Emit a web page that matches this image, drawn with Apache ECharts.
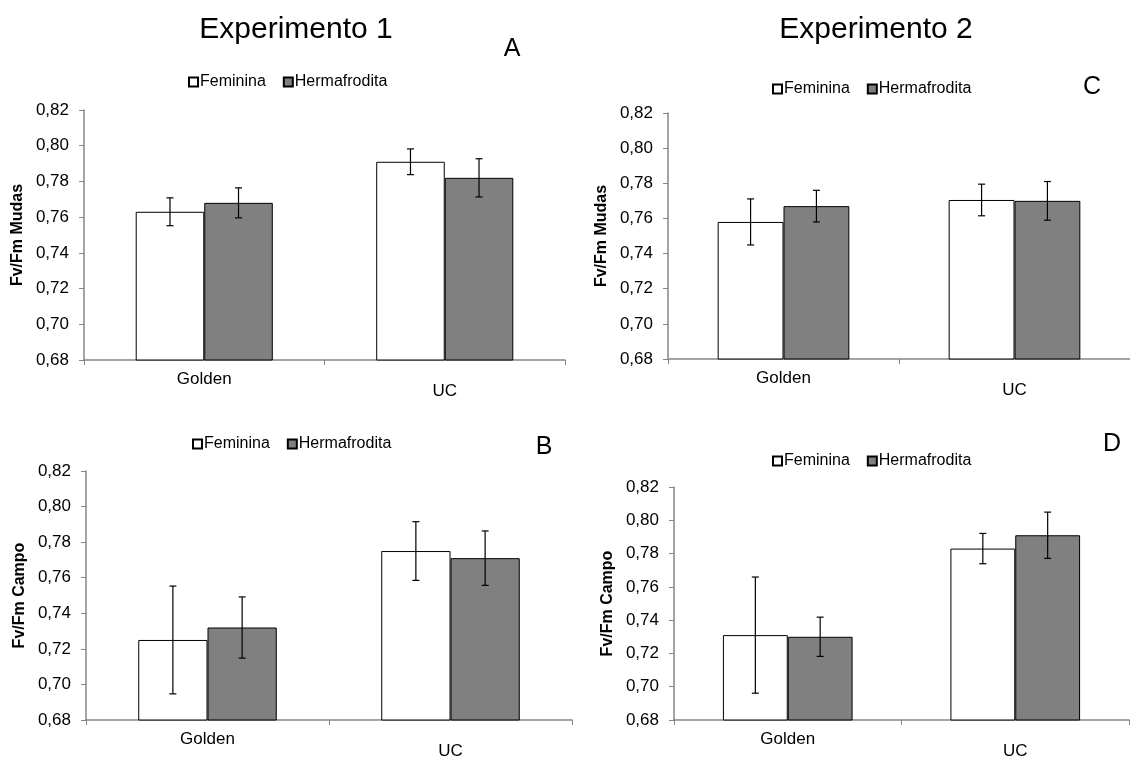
<!DOCTYPE html>
<html>
<head>
<meta charset="utf-8">
<script src="https://cdn.jsdelivr.net/npm/echarts@6/dist/echarts.min.js"></script>
<style>
html, body { margin: 0; padding: 0; background: #fff; }
#main { width: 1130px; height: 760px; }
</style>
</head>
<body>
<div id="main"></div>
<script>
var categories = ['Golden', 'UC'];
var seriesNames = ['Feminina', 'Hermafrodita'];
var yMin = 0.68, yMax = 0.82, yStep = 0.02;

// A - Experimento 1, Fv/Fm Mudas
var mudas1Fem = [0.763, 0.791];
var mudas1FemErr = [0.0078, 0.0072];
var mudas1Herm = [0.768, 0.782];
var mudas1HermErr = [0.0084, 0.0107];

// B - Experimento 1, Fv/Fm Campo
var campo1Fem = [0.725, 0.775];
var campo1FemErr = [0.0303, 0.0165];
var campo1Herm = [0.732, 0.771];
var campo1HermErr = [0.0172, 0.0153];

// C - Experimento 2, Fv/Fm Mudas
var mudas2Fem = [0.758, 0.7705];
var mudas2FemErr = [0.0131, 0.009];
var mudas2Herm = [0.767, 0.770];
var mudas2HermErr = [0.009, 0.011];

// D - Experimento 2, Fv/Fm Campo
var campo2Fem = [0.731, 0.783];
var campo2FemErr = [0.0349, 0.0091];
var campo2Herm = [0.730, 0.791];
var campo2HermErr = [0.0118, 0.0139];

var FONT = '"Liberation Sans", Arial, sans-serif';
var GAP = 0.43;

var panels = [
	{ letter: 'A', yName: 'Fv/Fm Mudas', fem: mudas1Fem, femErr: mudas1FemErr, herm: mudas1Herm, hermErr: mudas1HermErr,
	  grid: { left: 84, top: 110, width: 481, height: 250 }, legend: { left: 183, top: 69 }, letterPos: [512, 49] },
	{ letter: 'B', yName: 'Fv/Fm Campo', fem: campo1Fem, femErr: campo1FemErr, herm: campo1Herm, hermErr: campo1HermErr,
	  grid: { left: 86, top: 471, width: 486, height: 252 }, legend: { left: 187, top: 431 }, letterPos: [544, 447] },
	{ letter: 'C', yName: 'Fv/Fm Mudas', fem: mudas2Fem, femErr: mudas2FemErr, herm: mudas2Herm, hermErr: mudas2HermErr,
	  grid: { left: 668, top: 113, width: 468, height: 246 }, legend: { left: 767, top: 76 }, letterPos: [1092, 87] },
	{ letter: 'D', yName: 'Fv/Fm Campo', fem: campo2Fem, femErr: campo2FemErr, herm: campo2Herm, hermErr: campo2HermErr,
	  grid: { left: 674, top: 487, width: 455, height: 238 }, legend: { left: 767, top: 448 }, letterPos: [1112, 444] }
];

function errorBarRenderer(slot) {
	return function(params, api) {
		var cat = api.value(0);
		var val = api.value(1);
		var err = api.value(2);
		var catWidth = api.size([1, 0])[0];
		var barWidth = catWidth * (1 - GAP) / 2;
		var dx = (slot - 0.5) * barWidth;
		var hi = api.coord([cat, val + err]);
		var lo = api.coord([cat, val - err]);
		var x = hi[0] + dx;
		var cap = 3.5;
		var style = { stroke: '#000', lineWidth: 1.2 };
		return {
			type: 'group',
			children: [
				{ type: 'line', shape: { x1: x, y1: hi[1], x2: x, y2: lo[1] }, style: style },
				{ type: 'line', shape: { x1: x - cap, y1: hi[1], x2: x + cap, y2: hi[1] }, style: style },
				{ type: 'line', shape: { x1: x - cap, y1: lo[1], x2: x + cap, y2: lo[1] }, style: style }
			]
		};
	};
}

function errData(vals, errs) {
	var out = [];
	for (var i = 0; i < vals.length; i++) {
		out.push([i, vals[i], errs[i]]);
	}
	return out;
}

var grids = [], xAxes = [], yAxes = [], legends = [], series = [], graphics = [];
var axisColor = '#868686';

for (var i = 0; i < panels.length; i++) {
	var p = panels[i];
	grids.push(p.grid);

	xAxes.push({
		type: 'category',
		gridIndex: i,
		data: categories,
		axisLine: { lineStyle: { color: axisColor, width: 1.5 } },
		axisTick: { show: true, length: 5, lineStyle: { color: axisColor } },
		axisLabel: {
			margin: 11,
			color: '#000',
			fontFamily: FONT,
			fontSize: 17,
			formatter: function(v) {
				return v === 'UC' ? '{u|' + v + '}' : '{g|' + v + '}';
			},
			rich: {
				g: { fontSize: 17, fontFamily: FONT, color: '#000' },
				u: { fontSize: 17, fontFamily: FONT, color: '#000', padding: [12, 0, 0, 0] }
			}
		},
		splitLine: { show: false }
	});

	yAxes.push({
		type: 'value',
		gridIndex: i,
		min: yMin,
		max: yMax,
		interval: yStep,
		name: p.yName,
		nameLocation: 'middle',
		nameRotate: 90,
		nameGap: 58,
		nameTextStyle: { fontFamily: FONT, fontSize: 16, fontWeight: 'bold', color: '#000' },
		axisLine: { show: true, lineStyle: { color: axisColor, width: 1.5 } },
		axisTick: { show: true, length: 5, lineStyle: { color: axisColor } },
		axisLabel: {
			margin: 15,
			color: '#000',
			fontFamily: FONT,
			fontSize: 17,
			formatter: function(v) {
				return v.toFixed(2).replace('.', ',');
			}
		},
		splitLine: { show: false }
	});

	legends.push({
		left: p.legend.left,
		top: p.legend.top,
		data: seriesNames,
		icon: 'rect',
		itemWidth: 9,
		itemHeight: 9,
		itemGap: 17,
		selectedMode: false,
		textStyle: { fontFamily: FONT, fontSize: 16, color: '#000', padding: [0, 0, 0, -3] }
	});

	series.push({
		type: 'bar',
		name: seriesNames[0],
		xAxisIndex: i,
		yAxisIndex: i,
		data: p.fem,
		barGap: '0%',
		barCategoryGap: GAP * 100 + '%',
		itemStyle: { color: '#ffffff', borderColor: '#000', borderWidth: 1 },
		emphasis: { disabled: true }
	});
	series.push({
		type: 'bar',
		name: seriesNames[1],
		xAxisIndex: i,
		yAxisIndex: i,
		data: p.herm,
		barGap: '0%',
		barCategoryGap: GAP * 100 + '%',
		itemStyle: { color: '#808080', borderColor: '#000', borderWidth: 1 },
		emphasis: { disabled: true }
	});
	series.push({
		type: 'custom',
		name: 'errFem' + i,
		xAxisIndex: i,
		yAxisIndex: i,
		data: errData(p.fem, p.femErr),
		encode: { x: 0, y: 1 },
		renderItem: errorBarRenderer(0),
		z: 5
	});
	series.push({
		type: 'custom',
		name: 'errHerm' + i,
		xAxisIndex: i,
		yAxisIndex: i,
		data: errData(p.herm, p.hermErr),
		encode: { x: 0, y: 1 },
		renderItem: errorBarRenderer(1),
		z: 5
	});

	graphics.push({
		type: 'text',
		x: p.letterPos[0],
		y: p.letterPos[1],
		style: { text: p.letter, font: '25px ' + FONT, fill: '#000', textAlign: 'center', textVerticalAlign: 'middle' }
	});
}

graphics.push({
	type: 'text', x: 296, y: 30,
	style: { text: 'Experimento 1', font: '30px ' + FONT, fill: '#000', textAlign: 'center', textVerticalAlign: 'middle' }
});
graphics.push({
	type: 'text', x: 876, y: 30,
	style: { text: 'Experimento 2', font: '30px ' + FONT, fill: '#000', textAlign: 'center', textVerticalAlign: 'middle' }
});

var chart = echarts.init(document.getElementById('main'));
chart.setOption({
	animation: false,
	backgroundColor: '#fff',
	grid: grids,
	xAxis: xAxes,
	yAxis: yAxes,
	legend: legends,
	series: series,
	graphic: graphics
});
</script>
</body>
</html>
